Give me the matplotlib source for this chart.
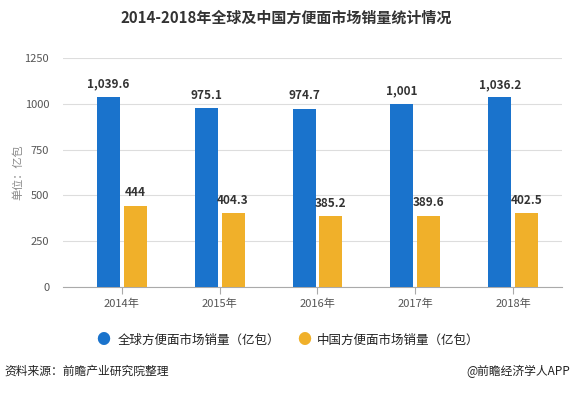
import matplotlib.pyplot as plt
import numpy as np

plt.rcParams['font.family'] = ['Noto Sans CJK SC', 'DejaVu Sans']

years = ["2014年", "2015年", "2016年", "2017年", "2018年"]
world = [1039.6, 975.1, 974.7, 1001, 1036.2]
china = [444, 404.3, 385.2, 389.6, 402.5]
world_labels = ["1,039.6", "975.1", "974.7", "1,001", "1,036.2"]
china_labels = ["444", "404.3", "385.2", "389.6", "402.5"]

blue = "#1a73cc"
orange = "#f0b02a"

fig = plt.figure(figsize=(5.73, 3.93), dpi=100)
ax = fig.add_axes([0.110, 0.270, 0.871, 0.582])

x = np.arange(len(years))
w = 0.235
ax.bar(x - w / 2 - 0.02, world, w, color=blue, zorder=3)
ax.bar(x + w / 2 + 0.02, china, w, color=orange, zorder=3)

for i in range(len(years)):
    ax.text(x[i] - w / 2 - 0.02, world[i] + 35, world_labels[i], ha="center", va="bottom",
            fontsize=8.5, fontweight="bold", color="#333333")
    ax.text(x[i] + w / 2 + 0.02, china[i] + 35, china_labels[i], ha="center", va="bottom",
            fontsize=8.5, fontweight="bold", color="#333333")

ax.set_xlim(-0.6, 4.5)
ax.set_ylim(0, 1250)
ax.set_yticks([0, 250, 500, 750, 1000, 1250])
ax.set_xticks(x)
ax.set_xticklabels(years)
ax.tick_params(axis="y", length=0, labelsize=8, colors="#555555", pad=10)
ax.tick_params(axis="x", length=5, labelsize=8, colors="#555555", color="#aaaaaa")
ax.grid(axis="y", color="#dddddd", linewidth=0.8, zorder=0)
for s in ["top", "right", "left"]:
    ax.spines[s].set_visible(False)
ax.spines["bottom"].set_color("#aaaaaa")
ax.set_ylabel("单位：亿包", fontsize=8, color="#888888", labelpad=1)

fig.text(0.5, 0.955, "2014-2018年全球及中国方便面市场销量统计情况", ha="center", va="center",
         fontsize=10.8, fontweight="bold", color="#333333")

# legend
fig.text(0.180, 0.135, "●", ha="center", va="center", fontsize=10, color=blue)
fig.text(0.206, 0.135, "全球方便面市场销量（亿包）", ha="left", va="center", fontsize=9, color="#222222")
fig.text(0.530, 0.135, "●", ha="center", va="center", fontsize=10, color=orange)
fig.text(0.553, 0.135, "中国方便面市场销量（亿包）", ha="left", va="center", fontsize=9, color="#222222")

fig.text(0.008, 0.055, "资料来源：前瞻产业研究院整理", ha="left", va="center", fontsize=8.5, color="#222222")
fig.text(0.995, 0.055, "@前瞻经济学人APP", ha="right", va="center", fontsize=8.5, color="#222222")

fig.savefig("out.png", dpi=100)
